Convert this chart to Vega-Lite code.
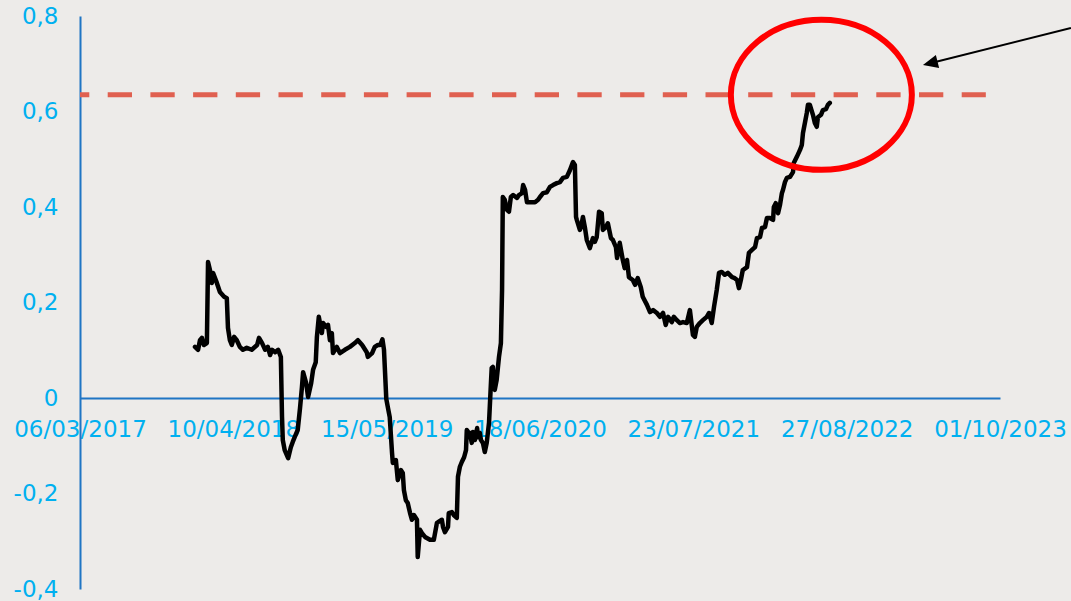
{
  "$schema": "https://vega.github.io/schema/vega-lite/v6.json",
  "autosize": {"type": "none"},
  "padding": {"left": 80, "top": 16, "right": 71, "bottom": 12},
  "width": 920,
  "height": 573,
  "background": "#EDEBE9",
  "config": {
    "view": {"stroke": null},
    "axis": {"grid": false, "ticks": false, "labelFont": "DejaVu Sans", "labelFontSize": 23, "labelColor": "#00B0F0", "domainColor": "#1F75C4", "domainWidth": 2, "title": null}
  },
  "datasets": {
    "series": [
      {"date": "2017-12-31", "value": 0.107},
      {"date": "2018-01-08", "value": 0.101},
      {"date": "2018-01-13", "value": 0.121},
      {"date": "2018-01-18", "value": 0.126},
      {"date": "2018-01-23", "value": 0.111},
      {"date": "2018-01-31", "value": 0.115},
      {"date": "2018-02-03", "value": 0.285},
      {"date": "2018-02-08", "value": 0.268},
      {"date": "2018-02-13", "value": 0.241},
      {"date": "2018-02-16", "value": 0.262},
      {"date": "2018-02-26", "value": 0.241},
      {"date": "2018-03-06", "value": 0.222},
      {"date": "2018-03-17", "value": 0.212},
      {"date": "2018-03-24", "value": 0.209},
      {"date": "2018-03-27", "value": 0.147},
      {"date": "2018-04-01", "value": 0.121},
      {"date": "2018-04-06", "value": 0.111},
      {"date": "2018-04-12", "value": 0.128},
      {"date": "2018-04-19", "value": 0.121},
      {"date": "2018-04-27", "value": 0.107},
      {"date": "2018-05-05", "value": 0.101},
      {"date": "2018-05-15", "value": 0.105},
      {"date": "2018-05-28", "value": 0.101},
      {"date": "2018-06-11", "value": 0.111},
      {"date": "2018-06-16", "value": 0.126},
      {"date": "2018-06-24", "value": 0.115},
      {"date": "2018-07-02", "value": 0.101},
      {"date": "2018-07-09", "value": 0.107},
      {"date": "2018-07-15", "value": 0.090},
      {"date": "2018-07-20", "value": 0.101},
      {"date": "2018-07-28", "value": 0.096},
      {"date": "2018-08-05", "value": 0.101},
      {"date": "2018-08-12", "value": 0.086},
      {"date": "2018-08-15", "value": -0.040},
      {"date": "2018-08-17", "value": -0.088},
      {"date": "2018-08-22", "value": -0.109},
      {"date": "2018-08-31", "value": -0.126},
      {"date": "2018-09-07", "value": -0.103},
      {"date": "2018-09-12", "value": -0.092},
      {"date": "2018-09-17", "value": -0.082},
      {"date": "2018-09-25", "value": -0.067},
      {"date": "2018-10-01", "value": -0.021},
      {"date": "2018-10-06", "value": 0.023},
      {"date": "2018-10-09", "value": 0.054},
      {"date": "2018-10-17", "value": 0.031},
      {"date": "2018-10-22", "value": 0.002},
      {"date": "2018-10-30", "value": 0.031},
      {"date": "2018-11-04", "value": 0.059},
      {"date": "2018-11-11", "value": 0.075},
      {"date": "2018-11-14", "value": 0.128},
      {"date": "2018-11-19", "value": 0.170},
      {"date": "2018-11-27", "value": 0.136},
      {"date": "2018-11-30", "value": 0.157},
      {"date": "2018-12-08", "value": 0.149},
      {"date": "2018-12-13", "value": 0.153},
      {"date": "2018-12-18", "value": 0.121},
      {"date": "2018-12-23", "value": 0.136},
      {"date": "2018-12-26", "value": 0.094},
      {"date": "2019-01-05", "value": 0.107},
      {"date": "2019-01-13", "value": 0.094},
      {"date": "2019-01-26", "value": 0.101},
      {"date": "2019-02-08", "value": 0.107},
      {"date": "2019-02-21", "value": 0.115},
      {"date": "2019-03-01", "value": 0.121},
      {"date": "2019-03-12", "value": 0.111},
      {"date": "2019-03-24", "value": 0.096},
      {"date": "2019-03-27", "value": 0.086},
      {"date": "2019-04-07", "value": 0.094},
      {"date": "2019-04-14", "value": 0.107},
      {"date": "2019-04-22", "value": 0.111},
      {"date": "2019-04-28", "value": 0.111},
      {"date": "2019-05-04", "value": 0.123},
      {"date": "2019-05-08", "value": 0.101},
      {"date": "2019-05-14", "value": -0.002},
      {"date": "2019-05-18", "value": -0.019},
      {"date": "2019-05-23", "value": -0.040},
      {"date": "2019-05-29", "value": -0.115},
      {"date": "2019-05-31", "value": -0.136},
      {"date": "2019-06-08", "value": -0.130},
      {"date": "2019-06-13", "value": -0.172},
      {"date": "2019-06-21", "value": -0.151},
      {"date": "2019-06-26", "value": -0.157},
      {"date": "2019-06-29", "value": -0.193},
      {"date": "2019-07-04", "value": -0.214},
      {"date": "2019-07-09", "value": -0.220},
      {"date": "2019-07-15", "value": -0.241},
      {"date": "2019-07-20", "value": -0.255},
      {"date": "2019-07-25", "value": -0.245},
      {"date": "2019-08-02", "value": -0.255},
      {"date": "2019-08-04", "value": -0.333},
      {"date": "2019-08-10", "value": -0.276},
      {"date": "2019-08-15", "value": -0.283},
      {"date": "2019-08-23", "value": -0.291},
      {"date": "2019-09-05", "value": -0.297},
      {"date": "2019-09-15", "value": -0.297},
      {"date": "2019-09-23", "value": -0.262},
      {"date": "2019-09-26", "value": -0.260},
      {"date": "2019-10-06", "value": -0.255},
      {"date": "2019-10-09", "value": -0.270},
      {"date": "2019-10-14", "value": -0.281},
      {"date": "2019-10-22", "value": -0.270},
      {"date": "2019-10-24", "value": -0.241},
      {"date": "2019-11-01", "value": -0.239},
      {"date": "2019-11-06", "value": -0.245},
      {"date": "2019-11-14", "value": -0.251},
      {"date": "2019-11-17", "value": -0.165},
      {"date": "2019-11-22", "value": -0.144},
      {"date": "2019-11-27", "value": -0.134},
      {"date": "2019-12-03", "value": -0.124},
      {"date": "2019-12-08", "value": -0.109},
      {"date": "2019-12-10", "value": -0.067},
      {"date": "2019-12-15", "value": -0.073},
      {"date": "2019-12-18", "value": -0.073},
      {"date": "2019-12-23", "value": -0.094},
      {"date": "2019-12-26", "value": -0.071},
      {"date": "2019-12-31", "value": -0.088},
      {"date": "2020-01-06", "value": -0.063},
      {"date": "2020-01-08", "value": -0.082},
      {"date": "2020-01-13", "value": -0.073},
      {"date": "2020-01-16", "value": -0.088},
      {"date": "2020-01-21", "value": -0.094},
      {"date": "2020-01-26", "value": -0.113},
      {"date": "2020-01-31", "value": -0.094},
      {"date": "2020-02-06", "value": -0.052},
      {"date": "2020-02-11", "value": 0.031},
      {"date": "2020-02-13", "value": 0.063},
      {"date": "2020-02-16", "value": 0.065},
      {"date": "2020-02-21", "value": 0.017},
      {"date": "2020-02-26", "value": 0.038},
      {"date": "2020-03-03", "value": 0.086},
      {"date": "2020-03-08", "value": 0.115},
      {"date": "2020-03-11", "value": 0.226},
      {"date": "2020-03-13", "value": 0.421},
      {"date": "2020-03-18", "value": 0.415},
      {"date": "2020-03-24", "value": 0.394},
      {"date": "2020-03-29", "value": 0.390},
      {"date": "2020-04-03", "value": 0.421},
      {"date": "2020-04-09", "value": 0.425},
      {"date": "2020-04-19", "value": 0.419},
      {"date": "2020-04-24", "value": 0.425},
      {"date": "2020-05-02", "value": 0.429},
      {"date": "2020-05-05", "value": 0.446},
      {"date": "2020-05-10", "value": 0.436},
      {"date": "2020-05-15", "value": 0.410},
      {"date": "2020-05-23", "value": 0.410},
      {"date": "2020-06-05", "value": 0.410},
      {"date": "2020-06-13", "value": 0.415},
      {"date": "2020-06-18", "value": 0.421},
      {"date": "2020-06-26", "value": 0.429},
      {"date": "2020-07-06", "value": 0.431},
      {"date": "2020-07-14", "value": 0.442},
      {"date": "2020-07-22", "value": 0.446},
      {"date": "2020-08-01", "value": 0.450},
      {"date": "2020-08-09", "value": 0.452},
      {"date": "2020-08-17", "value": 0.461},
      {"date": "2020-08-27", "value": 0.463},
      {"date": "2020-09-04", "value": 0.477},
      {"date": "2020-09-12", "value": 0.494},
      {"date": "2020-09-17", "value": 0.488},
      {"date": "2020-09-20", "value": 0.379},
      {"date": "2020-09-22", "value": 0.373},
      {"date": "2020-09-30", "value": 0.352},
      {"date": "2020-10-03", "value": 0.358},
      {"date": "2020-10-08", "value": 0.379},
      {"date": "2020-10-13", "value": 0.358},
      {"date": "2020-10-18", "value": 0.331},
      {"date": "2020-10-26", "value": 0.314},
      {"date": "2020-11-03", "value": 0.335},
      {"date": "2020-11-08", "value": 0.327},
      {"date": "2020-11-13", "value": 0.337},
      {"date": "2020-11-19", "value": 0.390},
      {"date": "2020-11-26", "value": 0.387},
      {"date": "2020-11-29", "value": 0.352},
      {"date": "2020-12-07", "value": 0.358},
      {"date": "2020-12-12", "value": 0.366},
      {"date": "2020-12-20", "value": 0.335},
      {"date": "2020-12-25", "value": 0.331},
      {"date": "2021-01-02", "value": 0.316},
      {"date": "2021-01-05", "value": 0.293},
      {"date": "2021-01-12", "value": 0.325},
      {"date": "2021-01-20", "value": 0.289},
      {"date": "2021-01-25", "value": 0.272},
      {"date": "2021-01-31", "value": 0.289},
      {"date": "2021-02-05", "value": 0.253},
      {"date": "2021-02-15", "value": 0.247},
      {"date": "2021-02-21", "value": 0.237},
      {"date": "2021-02-28", "value": 0.251},
      {"date": "2021-03-08", "value": 0.232},
      {"date": "2021-03-13", "value": 0.212},
      {"date": "2021-03-24", "value": 0.195},
      {"date": "2021-04-01", "value": 0.180},
      {"date": "2021-04-09", "value": 0.184},
      {"date": "2021-04-19", "value": 0.178},
      {"date": "2021-04-27", "value": 0.170},
      {"date": "2021-05-05", "value": 0.178},
      {"date": "2021-05-12", "value": 0.153},
      {"date": "2021-05-18", "value": 0.170},
      {"date": "2021-05-28", "value": 0.159},
      {"date": "2021-06-02", "value": 0.170},
      {"date": "2021-06-10", "value": 0.163},
      {"date": "2021-06-18", "value": 0.157},
      {"date": "2021-06-26", "value": 0.159},
      {"date": "2021-07-06", "value": 0.157},
      {"date": "2021-07-14", "value": 0.184},
      {"date": "2021-07-22", "value": 0.132},
      {"date": "2021-07-27", "value": 0.128},
      {"date": "2021-08-01", "value": 0.149},
      {"date": "2021-08-09", "value": 0.157},
      {"date": "2021-08-17", "value": 0.163},
      {"date": "2021-08-27", "value": 0.170},
      {"date": "2021-09-02", "value": 0.178},
      {"date": "2021-09-09", "value": 0.157},
      {"date": "2021-09-15", "value": 0.191},
      {"date": "2021-09-22", "value": 0.226},
      {"date": "2021-09-28", "value": 0.262},
      {"date": "2021-10-05", "value": 0.264},
      {"date": "2021-10-13", "value": 0.258},
      {"date": "2021-10-21", "value": 0.262},
      {"date": "2021-11-01", "value": 0.253},
      {"date": "2021-11-08", "value": 0.251},
      {"date": "2021-11-14", "value": 0.247},
      {"date": "2021-11-19", "value": 0.230},
      {"date": "2021-11-24", "value": 0.247},
      {"date": "2021-11-29", "value": 0.268},
      {"date": "2021-12-10", "value": 0.274},
      {"date": "2021-12-15", "value": 0.304},
      {"date": "2021-12-23", "value": 0.310},
      {"date": "2021-12-31", "value": 0.316},
      {"date": "2022-01-05", "value": 0.335},
      {"date": "2022-01-13", "value": 0.337},
      {"date": "2022-01-18", "value": 0.356},
      {"date": "2022-01-26", "value": 0.358},
      {"date": "2022-01-31", "value": 0.377},
      {"date": "2022-02-08", "value": 0.377},
      {"date": "2022-02-16", "value": 0.373},
      {"date": "2022-02-18", "value": 0.400},
      {"date": "2022-02-23", "value": 0.408},
      {"date": "2022-03-01", "value": 0.387},
      {"date": "2022-03-06", "value": 0.404},
      {"date": "2022-03-11", "value": 0.429},
      {"date": "2022-03-14", "value": 0.436},
      {"date": "2022-03-19", "value": 0.452},
      {"date": "2022-03-24", "value": 0.461},
      {"date": "2022-04-01", "value": 0.463},
      {"date": "2022-04-09", "value": 0.473},
      {"date": "2022-04-11", "value": 0.492},
      {"date": "2022-04-19", "value": 0.505},
      {"date": "2022-04-27", "value": 0.519},
      {"date": "2022-05-02", "value": 0.530},
      {"date": "2022-05-05", "value": 0.555},
      {"date": "2022-05-10", "value": 0.576},
      {"date": "2022-05-15", "value": 0.597},
      {"date": "2022-05-18", "value": 0.614},
      {"date": "2022-05-23", "value": 0.614},
      {"date": "2022-05-31", "value": 0.593},
      {"date": "2022-06-05", "value": 0.576},
      {"date": "2022-06-10", "value": 0.568},
      {"date": "2022-06-13", "value": 0.588},
      {"date": "2022-06-21", "value": 0.593},
      {"date": "2022-06-26", "value": 0.603},
      {"date": "2022-07-04", "value": 0.605},
      {"date": "2022-07-09", "value": 0.614},
      {"date": "2022-07-14", "value": 0.618}
    ],
    "threshold": [{"date": "2017-03-06", "date2": "2023-08-25", "value": 0.635}],
    "circle": [{"date": "2022-06-22", "value": 0.635}],
    "arrow": [{"date": "2024-04-03", "value": 0.775, "date2": "2023-04-02", "value2": 0.701}],
    "head": [{"date": "2023-04-02", "value": 0.701}]
  },
  "layer": [
    {
      "data": {"name": "threshold"},
      "mark": {"type": "rule", "color": "#E06050", "strokeWidth": 5, "strokeDash": [24.3, 18.4], "strokeDashOffset": 15},
      "encoding": {
        "x": {"field": "date", "type": "temporal", "scale": {"type": "utc", "domain": [{"year": 2017, "month": 3, "date": 6, "utc": true}, {"year": 2023, "month": 10, "date": 1, "utc": true}]},
          "axis": {"values": [
            {"year": 2017, "month": 3, "date": 6, "utc": true},
            {"year": 2018, "month": 4, "date": 10, "utc": true},
            {"year": 2019, "month": 5, "date": 15, "utc": true},
            {"year": 2020, "month": 6, "date": 18, "utc": true},
            {"year": 2021, "month": 7, "date": 23, "utc": true},
            {"year": 2022, "month": 8, "date": 27, "utc": true},
            {"year": 2023, "month": 10, "date": 1, "utc": true}
          ], "labelExpr": "utcFormat(datum.value, '%d/%m/%Y')", "offset": -191, "labelPadding": 20, "labelFlush": false, "labelOverlap": false, "labelBound": false}},
        "x2": {"field": "date2"},
        "y": {"field": "value", "type": "quantitative", "scale": {"domain": [-0.4, 0.8], "nice": false, "zero": false},
          "axis": {"values": [-0.4, -0.2, 0, 0.2, 0.4, 0.6, 0.8], "labelExpr": "datum.value == 0 ? '0' : replace(replace(format(datum.value, '.1f'), '.', ','), '\u2212', '-')", "labelPadding": 22}}
      }
    },
    {
      "data": {"name": "series"},
      "mark": {"type": "line", "color": "#000000", "strokeWidth": 4.5, "strokeJoin": "round", "strokeCap": "round"},
      "encoding": {
        "x": {"field": "date", "type": "temporal"},
        "y": {"field": "value", "type": "quantitative"}
      }
    },
    {
      "data": {"name": "circle"},
      "mark": {"type": "point", "shape": "M 1 0 C 1 0.458 0.552 0.829 0 0.829 C -0.552 0.829 -1 0.458 -1 0 C -1 -0.458 -0.552 -0.829 0 -0.829 C 0.552 -0.829 1 -0.458 1 0 Z", "size": 32761, "filled": false, "stroke": "#FF0000", "strokeWidth": 6, "opacity": 1},
      "encoding": {
        "x": {"field": "date", "type": "temporal"},
        "y": {"field": "value", "type": "quantitative"}
      }
    },
    {
      "data": {"name": "arrow"},
      "mark": {"type": "rule", "color": "#000000", "strokeWidth": 2},
      "encoding": {
        "x": {"field": "date", "type": "temporal"},
        "x2": {"field": "date2"},
        "y": {"field": "value", "type": "quantitative"},
        "y2": {"field": "value2"}
      }
    },
    {
      "data": {"name": "head"},
      "mark": {"type": "point", "shape": "M 1 0 L -1 -0.9 L -1 0.9 Z", "size": 225, "angle": 166, "filled": true, "fill": "#000000", "stroke": null, "opacity": 1},
      "encoding": {
        "x": {"field": "date", "type": "temporal"},
        "y": {"field": "value", "type": "quantitative"}
      }
    }
  ]
}
